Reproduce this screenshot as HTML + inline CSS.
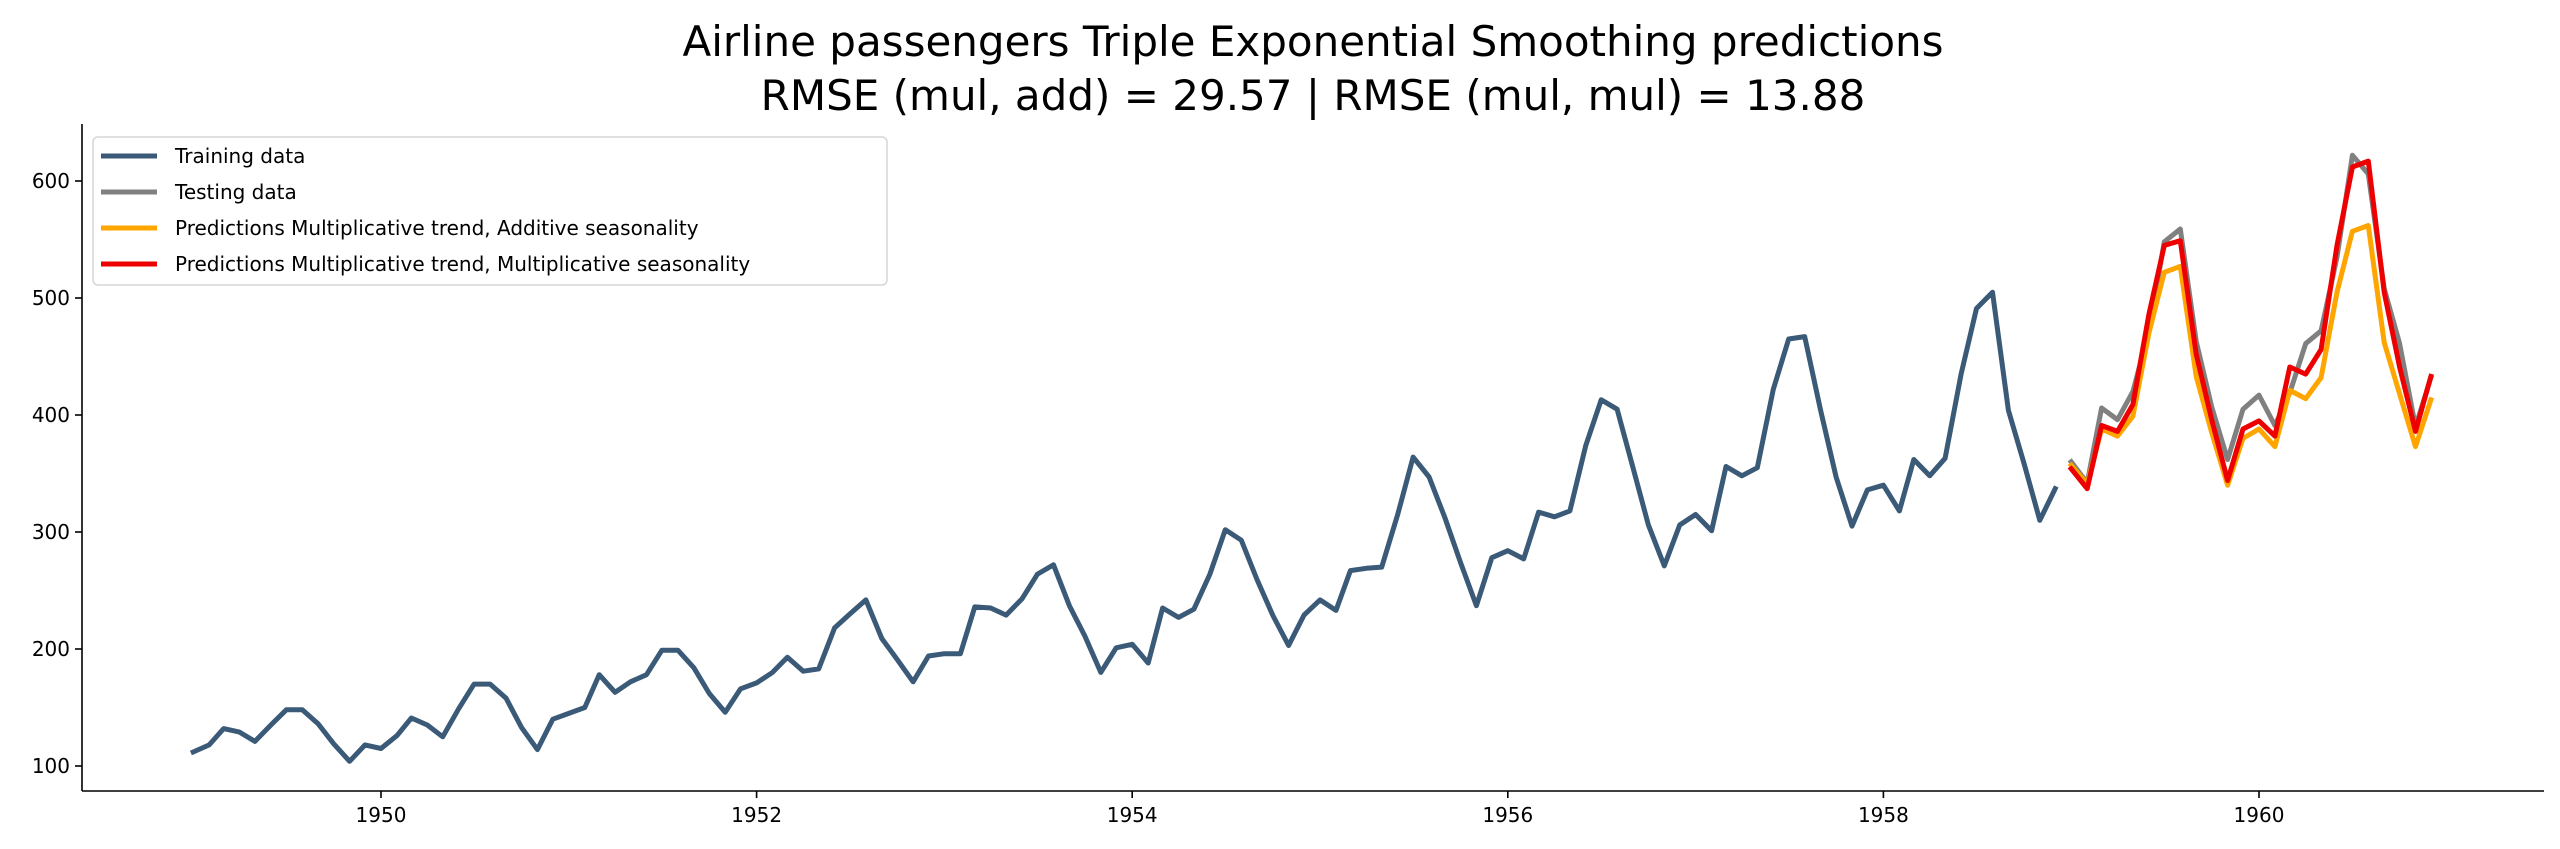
<!DOCTYPE html>
<html><head><meta charset="utf-8"><style>
html,body{margin:0;padding:0;background:#fff;}
svg{display:block;font-family:"DejaVu Sans","Liberation Sans",sans-serif;}
</style></head><body>
<svg id="chart" width="2560" height="849" viewBox="0 0 2560 849" xmlns="http://www.w3.org/2000/svg">
<rect width="2560" height="849" fill="#fff"/>
<text x="1313" y="56" font-size="42" text-anchor="middle" fill="#000">Airline passengers Triple Exponential Smoothing predictions</text>
<text x="1313" y="110" font-size="42" text-anchor="middle" fill="#000">RMSE (mul, add) = 29.57 | RMSE (mul, mul) = 13.88</text>
<g id="series"></g>
<g id="axes"></g>
<g>
<rect x="93" y="137" width="794" height="148" rx="5" fill="#fff" fill-opacity="0.8" stroke="#d6d6d6" stroke-width="1.5"/>
<line x1="101" y1="156" x2="157" y2="156" stroke="#3a5a78" stroke-width="5"/>
<text x="175" y="163" font-size="20">Training data</text>
<line x1="101" y1="192" x2="157" y2="192" stroke="#808080" stroke-width="5"/>
<text x="175" y="199" font-size="20">Testing data</text>
<line x1="101" y1="228" x2="157" y2="228" stroke="#ffa500" stroke-width="5"/>
<text x="175" y="235" font-size="20">Predictions Multiplicative trend, Additive seasonality</text>
<line x1="101" y1="264" x2="157" y2="264" stroke="#ee0000" stroke-width="5"/>
<text x="175" y="271" font-size="20">Predictions Multiplicative trend, Multiplicative seasonality</text>
</g>
</svg>
<script>
const trainValues = [112,118,132,129,121,135,148,148,136,119,104,118,
115,126,141,135,125,149,170,170,158,133,114,140,
145,150,178,163,172,178,199,199,184,162,146,166,
171,180,193,181,183,218,230,242,209,191,172,194,
196,196,236,235,229,243,264,272,237,211,180,201,
204,188,235,227,234,264,302,293,259,229,203,229,
242,233,267,269,270,315,364,347,312,274,237,278,
284,277,317,313,318,374,413,405,355,306,271,306,
315,301,356,348,355,422,465,467,404,347,305,336,
340,318,362,348,363,435,491,505,404,359,310,337];
const testValues = [360,342,406,396,420,472,548,559,463,407,362,405,
417,391,419,461,472,535,622,606,508,461,390,432];
const predMulAdd = [357,341,388,382,399,470,522,527,433,385,340,380,
388,373,421,414,432,505,557,562,462,418,373,413];
const predMulMul = [354,337,391,386,409,486,545,549,452,396,344,388,
395,382,441,435,456,545,612,617,505,441,386,433];
const trainStartYear = 1949;
const testStartYear = 1959;
const yTicks = [100,200,300,400,500,600];
const xTicks = [1950,1952,1954,1956,1958,1960];

const NS = "http://www.w3.org/2000/svg";
const plotLeft = 82, plotRight = 2544, plotTop = 124, plotBottom = 791;
function xScale(t){ return 381 + (t - 1950) * 187.8; }
function yScale(v){ return 766 - (v - 100) * 1.17; }
function monthTime(startYear, i){
  const y = startYear + Math.floor(i/12), m = i % 12;
  const start = Date.UTC(y,0,1), d = Date.UTC(y,m,1), end = Date.UTC(y+1,0,1);
  return y + (d - start)/(end - start);
}
function mk(tag, attrs, parent){
  const el = document.createElementNS(NS, tag);
  for (const k in attrs) el.setAttribute(k, attrs[k]);
  parent.appendChild(el);
  return el;
}
const series = document.getElementById('series');
function drawLine(vals, startYear, color, name){
  const pts = vals.map((v,i)=> xScale(monthTime(startYear,i)).toFixed(1)+','+yScale(v).toFixed(1)).join(' ');
  const pl = mk('polyline', {points: pts, fill:'none', stroke: color, 'stroke-width': 5, 'stroke-linejoin':'round', 'stroke-linecap':'square'}, series);
  
  
}
drawLine(trainValues, trainStartYear, '#3a5a78', 'training-line');
drawLine(testValues, testStartYear, '#808080', 'testing-line');
drawLine(predMulAdd, testStartYear, '#ffa500', 'mul-add-prediction-line');
drawLine(predMulMul, testStartYear, '#ee0000', 'mul-mul-prediction-line');

const axes = document.getElementById('axes');
const ly = mk('line', {x1:plotLeft, y1:plotTop, x2:plotLeft, y2:plotBottom, stroke:'#000', 'stroke-width':1.6}, axes);


const lx = mk('line', {x1:plotLeft, y1:plotBottom, x2:plotRight, y2:plotBottom, stroke:'#000', 'stroke-width':1.6}, axes);


yTicks.forEach(v=>{
  const y = yScale(v);
  const t = mk('line', {x1:plotLeft-7, y1:y, x2:plotLeft, y2:y, stroke:'#000', 'stroke-width':1.6}, axes);
  
  
  const tx = mk('text', {x:plotLeft-12, y:y+7, 'font-size':20, 'text-anchor':'end'}, axes);
  tx.textContent = v;
  
  
});
xTicks.forEach(v=>{
  const x = xScale(v);
  const t = mk('line', {x1:x, y1:plotBottom, x2:x, y2:plotBottom+7, stroke:'#000', 'stroke-width':1.6}, axes);
  
  
  const tx = mk('text', {x:x, y:plotBottom+31, 'font-size':20, 'text-anchor':'middle'}, axes);
  tx.textContent = v;
  
  
});
</script>
</body></html>
